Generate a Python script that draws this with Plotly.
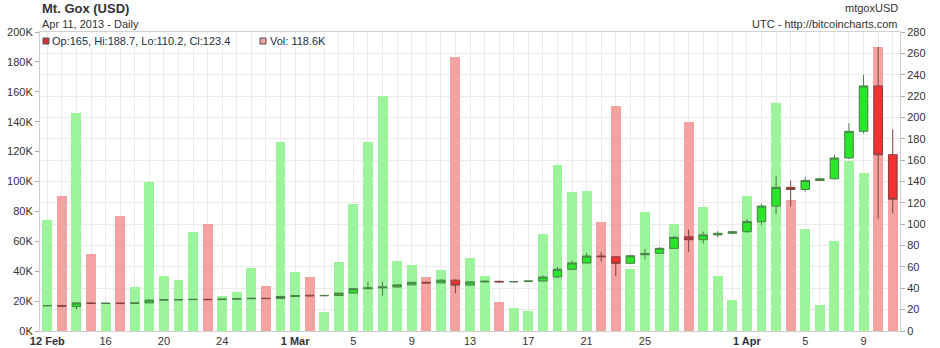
import pandas as pd
import plotly.graph_objects as go

# ---------------- data ----------------
dates = pd.date_range("2013-02-12", "2013-04-11", freq="D")

opens = [23.6, 23.8, 22.9, 26.3, 25.8, 26.0, 25.9, 26.3, 29.0, 29.2, 29.4, 29.6, 29.4, 29.8, 30.2, 30.6, 30.4,
         32.3, 33.4, 33.0, 33.3, 35.5, 39.6, 40.4, 41.2, 43.2, 45.6, 45.0, 47.6, 43.0, 46.0, 46.5, 46.0, 46.3,
         46.8, 50.6, 57.8, 63.7, 70.2, 69.6, 63.4, 71.5, 72.8, 77.4, 88.3, 85.5, 90.0, 91.5,
         93.0, 102.4, 117.0, 134.5, 132.5, 141.0, 142.5, 162.0, 187.0, 229.5, 165.0]
highs = [24.0, 24.2, 26.8, 26.6, 26.3, 26.5, 26.5, 29.2, 29.5, 29.8, 30.0, 30.2, 29.9, 30.4, 30.8, 31.0, 33.0,
         33.6, 34.0, 33.6, 35.8, 40.0, 46.0, 46.2, 43.8, 46.0, 46.2, 48.2, 48.6, 46.5, 47.5, 47.0, 46.8, 47.2,
         52.0, 60.0, 66.0, 73.0, 74.0, 70.0, 71.5, 77.0, 78.5, 89.0, 95.0, 93.0, 93.5, 93.5,
         105.0, 119.0, 145.4, 141.0, 144.0, 143.5, 165.0, 194.5, 240.0, 266.0, 188.7]
lows = [23.2, 22.6, 20.3, 25.3, 25.5, 25.2, 25.6, 26.2, 28.6, 28.9, 29.0, 28.8, 29.0, 29.4, 29.8, 30.0, 30.0,
        32.0, 32.6, 32.6, 33.0, 35.0, 39.0, 33.0, 40.8, 43.0, 44.5, 44.8, 35.3, 42.5, 45.3, 45.6, 45.6, 45.8,
        46.5, 50.0, 57.5, 63.0, 65.0, 51.5, 63.0, 67.0, 72.5, 77.0, 74.3, 82.0, 87.6, 91.0,
        92.0, 99.0, 109.3, 116.5, 130.5, 140.5, 142.0, 161.0, 185.0, 105.0, 110.2]
closes = [23.8, 23.4, 26.3, 25.8, 26.0, 25.9, 26.2, 29.0, 29.2, 29.4, 29.6, 29.4, 29.8, 30.2, 30.6, 30.4, 32.3,
          33.2, 33.0, 33.3, 35.5, 39.6, 40.4, 41.2, 43.2, 45.6, 45.0, 47.6, 43.0, 46.0, 46.5, 46.0, 46.3, 46.8,
          50.6, 57.8, 63.7, 70.2, 69.6, 63.4, 70.5, 72.5, 77.4, 87.7, 85.5, 90.0, 91.5, 93.0,
          102.4, 117.0, 134.5, 132.5, 141.0, 142.5, 162.0, 187.0, 229.5, 165.0, 123.4]
volume_k = [74, 90, 146, 51.5, 18.5, 77, 29.6, 99.7, 36.8, 34, 66.4, 71.6, 23.4, 26.3, 42, 30, 126.4,
            39.5, 36, 12.5, 46.4, 85.2, 126.4, 157, 47, 44, 36, 40.8, 183.5, 48.8, 36.8, 19.5, 15.6, 13.4,
            64.9, 111, 93, 93.6, 72.9, 150.5, 41.7, 79.8, 55.3, 71.6, 139.8, 83, 36.8, 20.7,
            90.5, 74.2, 152.7, 87.6, 68.2, 17.5, 60.4, 113.9, 105.5, 190.2, 118.6]

vol_ticks = list(range(0, 200001, 20000))
vol_ticktext = [f"{v // 1000}K" for v in vol_ticks]
x_tickdates = ["2013-02-12", "2013-02-16", "2013-02-20", "2013-02-24", "2013-03-01", "2013-03-05",
               "2013-03-09", "2013-03-13", "2013-03-17", "2013-03-21", "2013-03-25", "2013-04-01",
               "2013-04-05", "2013-04-09"]
x_ticktext = ["<b>12 Feb</b>", "16", "20", "24", "<b>1 Mar</b>", "5", "9", "13", "17", "21", "25",
              "<b>1 Apr</b>", "5", "9"]

# ---------------- styling ----------------
UP_VOL = "#9cf59c"
DN_VOL = "#f4a2a2"
UP_BODY = "#28e628"
DN_BODY = "#f23232"
GRID = "#ebebeb"
FONT = "Liberation Sans, Arial, sans-serif"
DAY_MS = 86400000

vol_colors = [DN_VOL if c < o else UP_VOL for o, c in zip(opens, closes)]

fig = go.Figure()
fig.add_trace(go.Bar(
    x=dates, y=[v * 1000 for v in volume_k], marker=dict(color=vol_colors, line=dict(width=0)),
    width=0.68 * DAY_MS, yaxis="y", hoverinfo="skip", showlegend=False,
))
fig.add_trace(go.Candlestick(
    x=dates, open=opens, high=highs, low=lows, close=closes, yaxis="y2",
    increasing=dict(fillcolor=UP_BODY, line=dict(color="#4b7f4b", width=1)),
    decreasing=dict(fillcolor=DN_BODY, line=dict(color="#874040", width=1)),
    whiskerwidth=0, hoverinfo="skip", showlegend=False,
))

fig.update_layout(
    width=940, height=348,
    margin=dict(l=40, r=40, t=32, b=17, autoexpand=False),
    paper_bgcolor="white", plot_bgcolor="white",
    font=dict(family=FONT, size=11, color="#333"),
    boxgap=0.16, bargap=0,
    showlegend=False,
    xaxis=dict(
        type="date", automargin=False,
        range=[dates[0] - pd.Timedelta(hours=12), dates[-1] + pd.Timedelta(hours=12)],
        tickvals=x_tickdates, ticktext=x_ticktext,
        showgrid=True, gridcolor=GRID, gridwidth=1,
        minor=dict(dtick=DAY_MS, tick0="2013-02-12", showgrid=True, gridcolor=GRID, gridwidth=1),
        showline=True, linecolor="#d0d0d0", linewidth=1, mirror=True,
        ticks="", tickfont=dict(size=11, color="#333"),
        rangeslider=dict(visible=False), zeroline=False,
    ),
    yaxis=dict(
        range=[0, 200000], tickvals=vol_ticks, ticktext=vol_ticktext, automargin=False,
        showgrid=False, zeroline=False,
        showline=True, linecolor="#d0d0d0", linewidth=1,
        ticks="outside", ticklen=4, tickcolor="#aaa",
        tickfont=dict(size=11, color="#333"), side="left",
    ),
    yaxis2=dict(
        range=[0, 280], dtick=20, overlaying="y", side="right", automargin=False,
        showgrid=True, gridcolor=GRID, gridwidth=1, zeroline=False,
        showline=True, linecolor="#d0d0d0", linewidth=1,
        ticks="outside", ticklen=4, tickcolor="#aaa",
        tickfont=dict(size=11, color="#333"),
    ),
)

# header texts
fig.add_annotation(xref="paper", yref="paper", x=0, y=(331 - 8) / 299, xanchor="left", yanchor="middle",
                   text="<b>Mt. Gox (USD)</b>", showarrow=False, font=dict(size=13, color="#333", family=FONT))
fig.add_annotation(xref="paper", yref="paper", x=0, y=(331 - 24) / 299, xanchor="left", yanchor="middle",
                   text="Apr 11, 2013 - Daily", showarrow=False, font=dict(size=11, color="#333", family=FONT))
fig.add_annotation(xref="paper", yref="paper", x=1, y=(331 - 8) / 299, xanchor="right", yanchor="middle",
                   text="mtgoxUSD", showarrow=False, font=dict(size=11, color="#333", family=FONT))
fig.add_annotation(xref="paper", yref="paper", x=1, y=(331 - 24) / 299, xanchor="right", yanchor="middle",
                   text="UTC - http://bitcoincharts.com", showarrow=False, font=dict(size=11, color="#333", family=FONT))

# legend row
legend_ohlc = f"Op:{opens[-1]:g}, Hi:{highs[-1]:g}, Lo:{lows[-1]:g}, Cl:{closes[-1]:g}"
legend_vol = f"Vol: {volume_k[-1]:g}K"
fig.add_shape(type="rect", xref="paper", yref="paper",
              x0=(43 - 40) / 860, x1=(49 - 40) / 860, y0=(331 - 44) / 299, y1=(331 - 38) / 299,
              fillcolor="#d8323a", line=dict(color="#555", width=1), layer="above")
fig.add_annotation(xref="paper", yref="paper", x=(51 - 40) / 860, y=(331 - 41) / 299, xanchor="left",
                   yanchor="middle", text=legend_ohlc, showarrow=False, bgcolor="white", borderpad=0,
                   font=dict(size=11, color="#203040", family=FONT))
fig.add_shape(type="rect", xref="paper", yref="paper",
              x0=(260 - 40) / 860, x1=(266 - 40) / 860, y0=(331 - 44) / 299, y1=(331 - 38) / 299,
              fillcolor="#f0a0a8", line=dict(color="#555", width=1), layer="above")
fig.add_annotation(xref="paper", yref="paper", x=(269 - 40) / 860, y=(331 - 41) / 299, xanchor="left",
                   yanchor="middle", text=legend_vol, showarrow=False, bgcolor="white", borderpad=0,
                   font=dict(size=11, color="#203040", family=FONT))

fig.write_html("out.html")
